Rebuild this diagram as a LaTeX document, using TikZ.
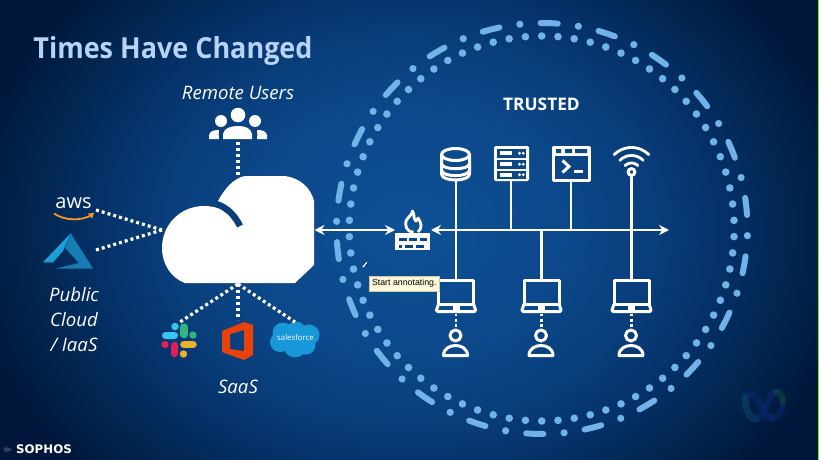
\documentclass[tikz,border=0pt]{standalone}
\usepackage{fontspec}
\setmainfont{Open Sans}
\newfontfamily\dvb{DejaVu Sans}
\newfontfamily\lib{Liberation Sans}
\newfontfamily\ttl[FakeStretch=0.93]{Open Sans}
\usetikzlibrary{arrows.meta}
\definecolor{ringc}{HTML}{6FB3E8}
\definecolor{titlec}{HTML}{B7D4F6}
\definecolor{cuta}{HTML}{0A3F7E}
\definecolor{icond}{HTML}{0B4685}
\definecolor{bga}{HTML}{0F5096}
\definecolor{bgb}{HTML}{0C488A}
\definecolor{bgc}{HTML}{093E7C}
\definecolor{bgd}{HTML}{043066}
\definecolor{bge}{HTML}{02244C}
\definecolor{bgf}{HTML}{00163A}
\definecolor{cOrange}{RGB}{244,154,31}
\definecolor{cAzL}{RGB}{27,159,216}
\definecolor{cAzR}{RGB}{21,125,180}
\definecolor{cSb}{RGB}{54,197,240}
\definecolor{cSg}{RGB}{46,182,125}
\definecolor{cSy}{RGB}{236,178,46}
\definecolor{cSr}{RGB}{224,30,90}
\definecolor{cOff}{RGB}{232,65,10}
\definecolor{cSf}{RGB}{23,152,216}
\definecolor{cTip}{RGB}{255,249,219}
\definecolor{cTipE}{RGB}{205,200,170}
\definecolor{wTeal}{RGB}{14,80,110}
\definecolor{wBlue}{RGB}{10,42,120}
\definecolor{wGreen}{RGB}{20,90,65}
\definecolor{cEdge}{RGB}{120,235,30}
\pgfdeclareradialshading{bgshade}{\pgfpointorigin}{
 color(0bp)=(bga); color(9bp)=(bgb); color(14bp)=(bgc); color(18.5bp)=(bgd); color(22.5bp)=(bge); color(26bp)=(bgf); color(50bp)=(bgf)}
\tikzset{
 lbl/.style={text=white,font=\itshape\fontsize{18.6}{22}\selectfont,align=center,inner sep=0pt},
 dotted link/.style={draw=white,line width=3.2pt,dash pattern=on 3pt off 3pt},
 bus/.style={draw=white,line width=2.8pt},
 twohead/.style={draw=white,line width=2.4pt,{Stealth[length=10pt,width=10pt]}-{Stealth[length=10pt,width=10pt]}},
 icon/.style={draw=white,line width=3pt,line join=round},
 laptop/.pic={
  \coordinate (-top) at (0,0);
  \draw[icon] (-17.5,0) rectangle (17.5,23.5);
  \draw[icon,rounded corners=1.5pt,fill=none] (-17.5,23.5) -- (-20,31) -- (20,31) -- (17.5,23.5);
  \fill[white] (-3.5,25) rectangle (3.5,29);
  \draw[dotted link,line width=2.8pt,dash pattern=on 2.8pt off 2.6pt] (0,33) -- (0,47);
  \draw[icon] (-0.5,55) circle[radius=5.5];
  \draw[icon] (-12.5,75) .. controls (-12.5,68) and (-6,65) .. (-0.5,65) .. controls (5,65) and (11.5,68) .. (11.5,75) -- cycle;
 }
}
\begin{document}
\begin{tikzpicture}[x=1pt,y=-1pt]
\useasboundingbox (0,0) rectangle (819,460);
\begin{scope}
\clip (0,0) rectangle (819,460);
\shade[shading=bgshade] (-20,-110) rectangle (840,570);

% rings
\foreach \i in {0,...,73}{
 \pgfmathsetmacro{\a}{90+\i*4.865}
 \fill[ringc] ({541.7+192.5*cos(\a)},{228.5-192.5*sin(\a)}) circle[radius=3.8];
}
\foreach \i in {0,...,21}{
 \pgfmathsetmacro{\a}{88-\i*16.364}
 \pgfmathsetmacro{\b}{\a-8.182}
 \draw[ringc,line width=6pt,line cap=round]
   ({542+205.5*cos(\a+2.4)},{228.5-205.5*sin(\a+2.4)}) -- ({542+205.5*cos(\a)},{228.5-205.5*sin(\a)}) -- ({542+205.5*cos(\a-2.4)},{228.5-205.5*sin(\a-2.4)});
 \fill[ringc] ({542+205.5*cos(\b)},{228.5-205.5*sin(\b)}) circle[radius=3.6];
}

% title and labels
\node[text=titlec,font=\ttl\bfseries\fontsize{29}{33}\selectfont,inner sep=0pt] (title) at (173,50.5) {Times Have Changed};
\node[lbl] (remote) at (238,93) {Remote Users};
\node[lbl,align=center] (pubA) at (74,295) {Public};
\node[lbl] (pubB) at (74,320) {Cloud};
\node[lbl] (pubC) at (74,344.5) {/ IaaS};
\node[lbl] (saas) at (238,387) {SaaS};
\node[text=white,font=\bfseries\fontsize{17.3}{20}\selectfont,inner sep=0pt] (trusted) at (541.5,104) {TRUSTED};

% cloud
\fill[white] (245,176) -- (285,176) .. controls (300,178) and (311,188) .. (314,201) -- (314,265) -- (295,283) -- (185,283)
  .. controls (171,278) and (162,264) .. (162,248) .. controls (162,224) and (181,206) .. (204,206)
  .. controls (209,206) and (214,207) .. (219,208) -- (218,201) .. controls (225,188) and (234,178) .. (245,176) -- cycle;
\draw[cuta,line width=6.5pt] (216,204) .. controls (226,207) and (234,214) .. (240,226);
\coordinate (cloudtop) at (238,176);
\coordinate (cloudleft) at (162,230);
\coordinate (cloudbot) at (238,284);
\coordinate (cloudright) at (314.5,230);

% users icon
\coordinate (usersbot) at (238,142);
\fill[white] (238,115) circle[radius=7.3] (221,121) circle[radius=6] (255,121) circle[radius=6];
\fill[white] (223,139) -- (223,134) .. controls (224,128) and (231,126) .. (238,126) .. controls (245,126) and (251,128) .. (252,134) -- (252,139) -- cycle;
\fill[white] (209,139) -- (209,135) .. controls (210,131) and (214,130) .. (219,130) .. controls (218,133) and (219,136) .. (219,139) -- cycle;
\fill[white] (267,139) -- (267,135) .. controls (266,131) and (262,130) .. (257,130) .. controls (258,133) and (257,136) .. (257,139) -- cycle;
\draw[dotted link] (usersbot) -- (cloudtop);

% aws
\node[text=white,font=\fontsize{20}{22}\selectfont,inner sep=0pt] (aws) at (73.5,203) {aws};
\draw[cOrange,line width=1.8pt] (54,213.5) .. controls (65,221) and (81,221) .. (92,215);
\fill[cOrange] (88,213.5) -- (94,213) -- (92,218.5) -- cycle;
\coordinate (awsend) at (96,210);
\draw[dotted link] (awsend) -- (cloudleft);

% azure
\fill[cAzL] (43,262.3) -- (70.7,233.3) -- (63,251) -- (53,262.3) -- cycle;
\fill[cAzR] (70.7,233.3) -- (93,268.5) -- (56,268.5) -- (79,263) -- (65,248) -- cycle;
\coordinate (azend) at (96,250);
\draw[dotted link] (azend) -- (cloudleft);

% slack
\begin{scope}[line cap=round]
 \draw[cSb,line width=7pt] (165.5,335.5) -- (174.5,335.5);
 \fill[cSb] (175,326.5) circle[radius=3.7];
 \draw[cSg,line width=7.5pt] (184,327) -- (184,334.5);
 \fill[cSg] (193,335) circle[radius=3.7];
 \draw[cSy,line width=7.5pt] (184,344.5) -- (193,344.5);
 \fill[cSy] (183.5,354) circle[radius=3.7];
 \draw[cSr,line width=7.5pt] (174.5,345.5) -- (174.5,353.5);
 \fill[cSr] (165,344.5) circle[radius=3.7];
\end{scope}
\coordinate (slackend) at (180,322);
\draw[dotted link] (cloudbot) -- (slackend);

% office
\fill[cOff,even odd rule] (222,331) -- (244,322) -- (253,325) -- (253,355) -- (244,360) -- (222,352) -- cycle
  (230,334) -- (244,330) -- (244,351) -- (230,349) -- cycle;
\coordinate (officeend) at (238,320);
\draw[dotted link] (cloudbot) -- (officeend);

% salesforce
\fill[cSf] (283,333) circle[radius=10.5] (296,331) circle[radius=9.5] (309,335) circle[radius=10.5]
  (295,346) circle[radius=11.5] (280,342) circle[radius=10] (306,345) circle[radius=9.5] (295,338) circle[radius=10];
\node[text=white,font=\fontsize{7.8}{9}\selectfont,inner sep=0pt] (sf) at (295.5,338) {salesforce};
\coordinate (sfend) at (295,322);
\draw[dotted link] (cloudbot) -- (sfend);

% firewall
\coordinate (fwleft) at (395,230);
\coordinate (fwright) at (431,230);
\draw[icon,line width=2.8pt] (413.5,232) .. controls (406,232) and (405,225) .. (406,221) .. controls (408,217) and (412,215) .. (412.5,211) .. controls (415,215) and (413,219) .. (416,221) .. controls (417,220) and (418,219) .. (418,218) .. controls (421,222) and (423,228) .. (418,232);
\fill[white] (395,233) rectangle (430,250);
\foreach \p/\q/\r in {399/407/237.5,409/417/237.5,420/427/237.5,399/402/244.5,405/413/244.5,416/424/244.5}
  \fill[icond] (\p,\r) rectangle (\q,\r+3);
\draw[twohead] (cloudright) -- (fwleft);

% bus
\coordinate (busR) at (669,230);
\coordinate (dbbot) at (456,181);
\coordinate (srvbot) at (511,181);
\coordinate (termbot) at (571,181);
\coordinate (wifibot) at (631.5,177);
\coordinate (j2) at (511,230);
\coordinate (j3) at (571,230);
\coordinate (j5) at (541.5,230);
\draw[twohead] (fwright) -- (busR);
\pic (lapA) at (456,280.5) {laptop};
\pic (lapB) at (541.5,280.5) {laptop};
\pic (lapC) at (631.5,280.5) {laptop};
\draw[bus] (dbbot) -- (lapA-top);
\draw[bus] (srvbot) -- (j2);
\draw[bus] (termbot) -- (j3);
\draw[bus] (wifibot) -- (lapC-top);
\draw[bus] (j5) -- (lapB-top);

% database
\draw[icon] (455.5,154.5) ellipse[x radius=14,y radius=6];
\draw[icon] (441.5,154.5) -- (441.5,174) .. controls (441.5,182) and (469.5,182) .. (469.5,174) -- (469.5,154.5);
\draw[icon] (441.5,163.5) .. controls (441.5,170.5) and (469.5,170.5) .. (469.5,163.5);
\draw[icon] (441.5,170) .. controls (441.5,177.5) and (469.5,177.5) .. (469.5,170);

% server
\fill[white,rounded corners=1.5pt] (494,146) rectangle (529,181);
\foreach \t in {149,160,170.5}{
 \fill[icond] (497,\t) rectangle (526,\t+8.5);
 \fill[white] (499.5,\t+2.3) rectangle (512,\t+6.2);
 \fill[white] (519.5,\t+4.2) circle[radius=1.6] (523.3,\t+4.2) circle[radius=1.6];
}

% terminal
\draw[icon] (553.2,147.2) rectangle (589.8,180);
\fill[white] (553,147) rectangle (590,155.5);
\fill[icond] (556,149) rectangle (561,153) (565,149) rectangle (572,153) (575,149) rectangle (587,153);
\draw[white,line width=3pt] (562.5,160.5) -- (569,166.5) -- (562.5,172.5);
\draw[white,line width=3pt] (574,171.5) -- (583,171.5);

% wifi
\foreach \r in {24.5,16.5,9}{
 \draw[white,line width=2.8pt,line cap=round] plot[domain=45:135,samples=15,smooth] ({631.5+\r*cos(\x)},{172-\r*sin(\x)});
}
\draw[white,line width=3pt,fill=icond] (631.5,172) circle[radius=3.4];

% tooltip
\node[fill=cTip,draw=cTipE,line width=.4pt,minimum width=70pt,minimum height=15pt,inner sep=0pt,text=black,font=\lib\fontsize{8.8}{10}\selectfont] (tip) at (404.3,283.7) {Start annotating.};
% annotating cursor
\draw[white,line width=1.4pt] (363,267) -- (367,262.5);
\draw[black,line width=.6pt] (365.5,265.5) -- (368,263);

% webex mark
\begin{scope}[line cap=round,opacity=.45]
 \draw[wTeal,line width=7pt] (745,397) .. controls (745,410) and (750,419) .. (756,419);
 \draw[wBlue,line width=7pt] (750,394) .. controls (760,394) and (762,418) .. (772,418);
 \draw[wBlue,line width=7pt] (756,419) .. controls (766,419) and (766,394) .. (776,392);
 \draw[wGreen,line width=6pt] (776,392) .. controls (781,392) and (783,398) .. (783,403);
 \draw[wBlue,line width=6pt] (772,418) .. controls (778,418) and (782,412) .. (783,406);
\end{scope}

% sophos
\node[text=white,font=\dvb\bfseries\fontsize{11.8}{13}\selectfont,inner sep=0pt] (sophos) at (44,448.7) {SOPHOS};
\fill[white,opacity=.18] (3,449.5) -- (7,446) -- (7,448) -- (11,448) -- (11,451) -- (7,451) -- (7,453) -- cycle;

% capture edge
\fill[cEdge] (818,0) rectangle (819,460);
\end{scope}
\end{tikzpicture}
\end{document}
